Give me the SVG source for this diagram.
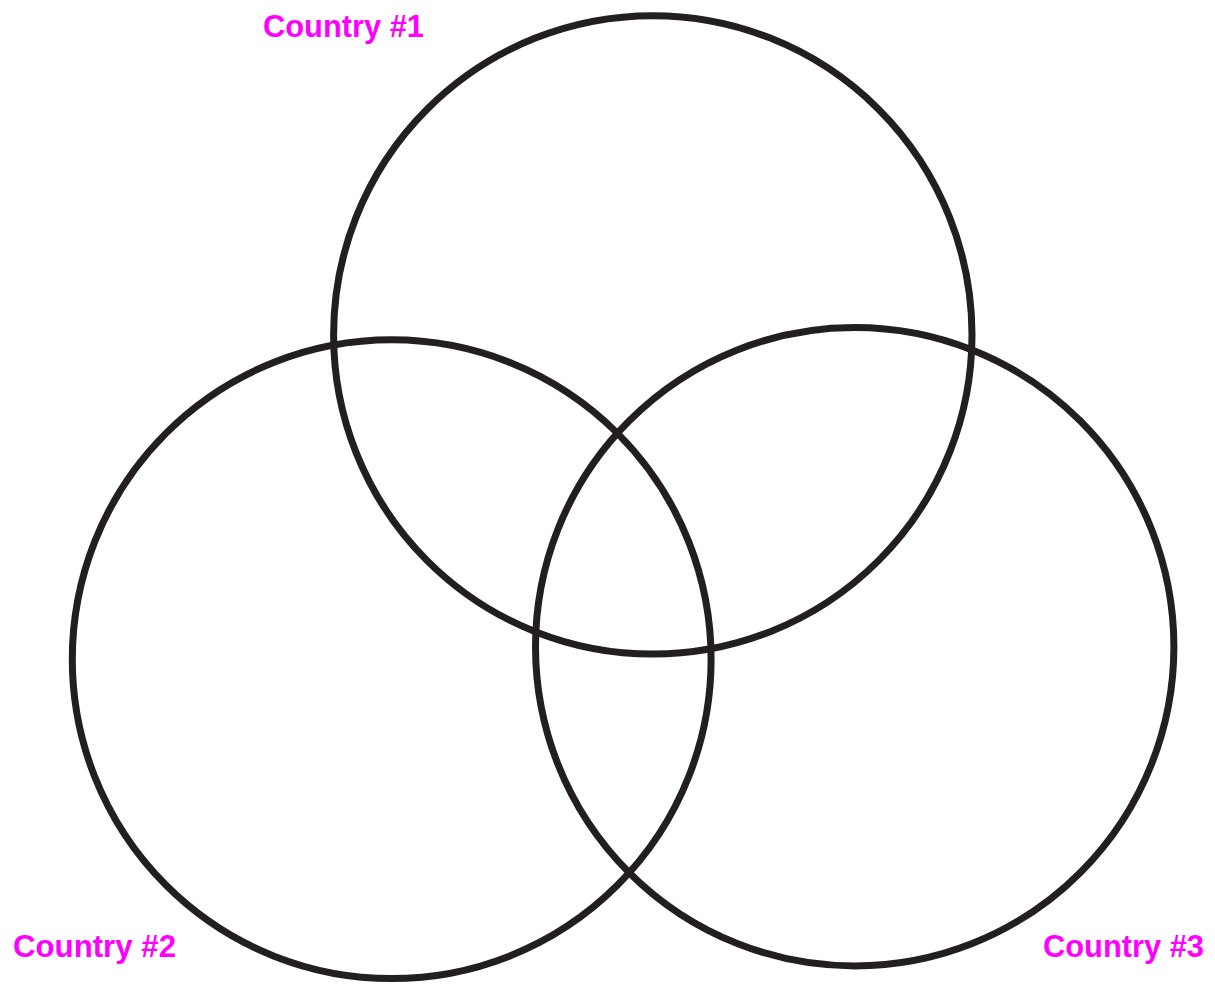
<svg xmlns="http://www.w3.org/2000/svg" width="1215" height="984" viewBox="0 0 1215 984">
<style>
.ring{fill:none;stroke:#231f20;stroke-width:7}
.lbl{font-family:"Liberation Sans",Arial,sans-serif;font-weight:bold;font-size:32px;fill:#ff00ff}
</style>
<rect width="1215" height="984" fill="#ffffff"/>
<g id="country1">
<circle class="ring" cx="652.8" cy="334.9" r="319.2"/>
<text class="lbl" x="263" y="37" textLength="161" lengthAdjust="spacingAndGlyphs">Country #1</text>
</g>
<g id="country2">
<circle class="ring" cx="391.7" cy="659.2" r="319.4"/>
<text class="lbl" x="13" y="957" textLength="163" lengthAdjust="spacingAndGlyphs">Country #2</text>
</g>
<g id="country3">
<circle class="ring" cx="854.7" cy="646.7" r="319.2"/>
<text class="lbl" x="1043" y="957" textLength="161" lengthAdjust="spacingAndGlyphs">Country #3</text>
</g>
<g id="connectors"></g>
</svg>
